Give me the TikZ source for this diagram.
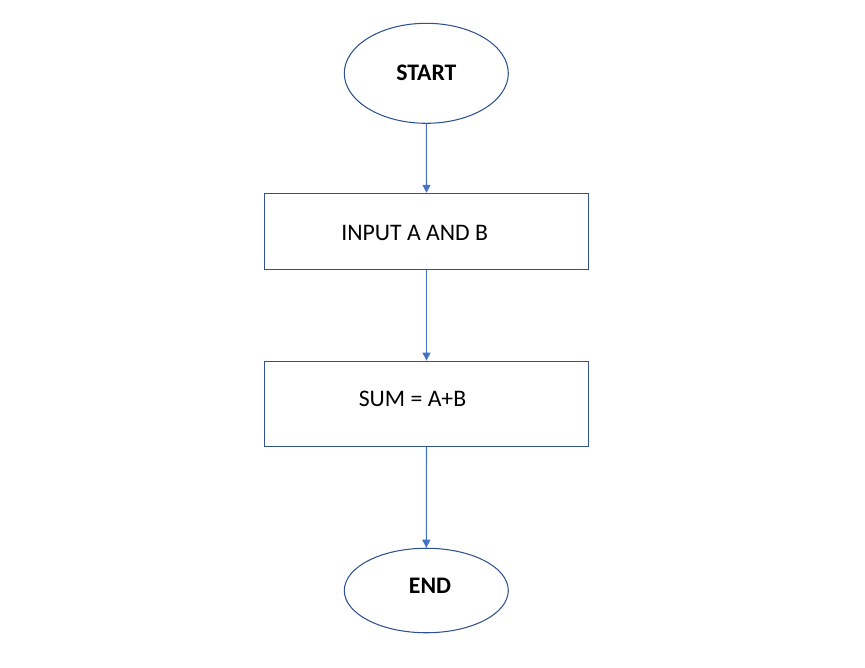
\documentclass[tikz,border=0pt]{standalone}
\usepackage{fontspec}
\setmainfont{Carlito}
\usepackage{xcolor}
\usetikzlibrary{arrows.meta,positioning,calc,shapes.geometric}
\definecolor{edgeblue}{HTML}{2F528F}
\definecolor{arrowblue}{HTML}{4472C4}
\begin{document}
\begin{tikzpicture}[>={Triangle[length=0.16cm,width=0.16cm]},font=\fontsize{13.5}{16}\selectfont,
  term/.style={draw=edgeblue,ellipse,line width=0.6pt,minimum width=3.28cm,inner sep=0pt},
  procbox/.style={draw=edgeblue,rectangle,line width=0.6pt,minimum width=6.49cm,inner sep=0pt},
  flow/.style={->,draw=arrowblue,fill=arrowblue,line width=0.6pt}]
  \useasboundingbox (0,0) rectangle (17.3,-13.34);
  \node[term,minimum height=2.0cm] (start) at (8.526,-1.466) {};
  \node[procbox,minimum height=1.52cm] (input) at (8.53,-4.626) {};
  \node[procbox,minimum height=1.71cm] (sum) at (8.53,-8.077) {};
  \node[term,minimum height=1.69cm] (stop) at (8.526,-11.81) {};
  \node[font=\fontsize{13.5}{16}\selectfont\bfseries] (starttxt) at (start.center) {START};
  \node (inputtxt) at ($(input.center)+(-0.236,-0.04)$) {INPUT A AND B};
  \node (sumtxt) at ($(sum.center)+(-0.28,0.09)$) {SUM = A+B};
  \node[font=\fontsize{13.5}{16}\selectfont\bfseries] (stoptxt) at ($(stop.center)+(0.074,0.09)$) {END};
  \draw[flow] (start.south) -- (input.north);
  \draw[flow] (input.south) -- (sum.north);
  \draw[flow] (sum.south) -- (stop.north);
\end{tikzpicture}
\end{document}
